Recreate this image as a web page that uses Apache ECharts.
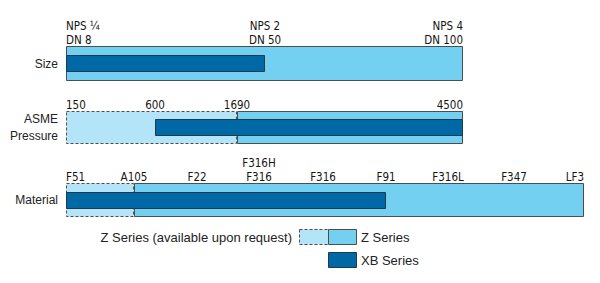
<!DOCTYPE html>
<html>
<head>
<meta charset="utf-8">
<script src="https://cdn.jsdelivr.net/npm/echarts@6/dist/echarts.min.js"></script>
<style>html,body{margin:0;padding:0;background:#fff}#c{width:600px;height:283px}</style>
</head>
<body>
<div id="c"></div>
<script>
// ---- data ----
const rowNames = ['Size', 'ASME\nPressure', 'Material'];

const sizeTicks = ['NPS ¼\nDN 8', 'NPS 2\nDN 50', 'NPS 4\nDN 100'];
const sizeTickPos = [0, 1, 2];
const sizeZaSpan = null;          // tick index ranges
const sizeZSpan = [0, 2];
const sizeXBSpan = [0, 1];

const pressureTicks = ['150', '600', '1690', '4500'];
const pressureTickPos = [0, 22.4, 43.1, 100];
const pressureZaSpan = [0, 2];
const pressureZSpan = [2, 3];
const pressureXBSpan = [1, 3];

const materialTicks = ['F51', 'A105', 'F22', 'F316H\nF316', 'F316', 'F91', 'F316L', 'F347', 'LF3'];
const materialTickPos = [0, 1.05, 2.02, 2.98, 3.97, 4.94, 5.9, 6.92, 8];
const materialZaSpan = [0, 1];
const materialZSpan = [1, 8];
const materialXBSpan = [0, 5];

const legendNames = ['Z Series (available upon request)', 'Z Series', 'XB Series'];

// ---- styles ----
const COL_ZA = '#b4e4f7';
const COL_Z = '#74d0f1';
const COL_XB = '#0068a5';
const EDGE = '#4d4d4d';
const TICK_FONT = "'Liberation Sans Narrow','DejaVu Sans Condensed','Arial Narrow',sans-serif";
const BODY_FONT = "'Liberation Sans',Arial,sans-serif";

const rows = [
  { ticks: sizeTicks, pos: sizeTickPos, za: sizeZaSpan, z: sizeZSpan, xb: sizeXBSpan },
  { ticks: pressureTicks, pos: pressureTickPos, za: pressureZaSpan, z: pressureZSpan, xb: pressureXBSpan },
  { ticks: materialTicks, pos: materialTickPos, za: materialZaSpan, z: materialZSpan, xb: materialXBSpan }
];

const grids = [
  { left: 66, top: 46, width: 397, height: 35 },
  { left: 66, top: 111, width: 397, height: 33 },
  { left: 66, top: 183, width: 518, height: 34 }
];

function styleFor(kind) {
  if (kind === 0) return { fill: COL_ZA, stroke: EDGE, lineWidth: 1, lineDash: [3, 2] };
  if (kind === 1) return { fill: COL_Z, stroke: EDGE, lineWidth: 1 };
  return { fill: COL_XB, stroke: '#1d3a4f', lineWidth: 1 };
}

function barRender(params, api) {
  const s = api.coord([api.value(0), 0]);
  const e = api.coord([api.value(1), 0]);
  const band = api.size([0, 1])[1];
  const kind = api.value(2);
  const h = kind === 2 ? band * 0.5 : band;
  const top = s[1] - h / 2;
  const x0 = Math.round(s[0]) + 0.5;
  const x1 = Math.round(e[0]) - 0.5;
  const y0 = Math.round(top) + 0.5;
  const y1 = Math.round(top + h) - 0.5;
  return {
    type: 'rect',
    shape: { x: x0, y: y0, width: x1 - x0, height: y1 - y0 },
    style: styleFor(kind)
  };
}

const xAxes = [], yAxes = [], series = [];
rows.forEach((r, i) => {
  xAxes.push({
    gridIndex: i, type: 'value',
    min: r.pos[0], max: r.pos[r.pos.length - 1],
    show: false
  });
  yAxes.push({
    gridIndex: i, type: 'category', data: [rowNames[i]],
    axisLine: { show: false }, axisTick: { show: false },
    axisLabel: { margin: 8, fontSize: 12, fontFamily: BODY_FONT, color: '#222', lineHeight: 17 }
  });
  const bars = [];
  if (r.za) bars.push([r.pos[r.za[0]], r.pos[r.za[1]], 0]);
  if (r.z) bars.push([r.pos[r.z[0]], r.pos[r.z[1]], 1]);
  if (r.xb) bars.push([r.pos[r.xb[0]], r.pos[r.xb[1]], 2]);
  series.push({
    type: 'custom', xAxisIndex: i, yAxisIndex: i,
    renderItem: barRender, data: bars, silent: true, animation: false
  });
  const n = r.ticks.length;
  series.push({
    type: 'custom', xAxisIndex: i, yAxisIndex: i, silent: true, animation: false,
    data: r.pos.map((p, k) => [p, k]),
    renderItem: function (params, api) {
      const k = api.value(1);
      const c = api.coord([api.value(0), 0]);
      const band = api.size([0, 1])[1];
      const top = c[1] - band / 2;
      return {
        type: 'text',
        style: {
          text: r.ticks[k],
          x: Math.round(c[0]),
          y: top + 1,
          align: k === 0 ? 'left' : (k === n - 1 ? 'right' : 'center'),
          verticalAlign: 'bottom',
          fontFamily: TICK_FONT,
          fontSize: 11.5,
          lineHeight: 14,
          fill: '#151515'
        }
      };
    }
  });
});

const chart = echarts.init(document.getElementById('c'), null, { renderer: 'svg' });
chart.setOption({
  animation: false,
  grid: grids,
  xAxis: xAxes,
  yAxis: yAxes,
  series: series,
  graphic: [
    { type: 'text', style: { text: legendNames[0], x: 292, y: 237, align: 'right', verticalAlign: 'middle', fontFamily: BODY_FONT, fontSize: 13, fill: '#222' } },
    { type: 'rect', shape: { x: 299.5, y: 229.5, width: 29, height: 15 }, style: styleFor(0) },
    { type: 'rect', shape: { x: 328.5, y: 229.5, width: 28, height: 15 }, style: styleFor(1) },
    { type: 'text', style: { text: legendNames[1], x: 361, y: 237, align: 'left', verticalAlign: 'middle', fontFamily: BODY_FONT, fontSize: 13, fill: '#222' } },
    { type: 'rect', shape: { x: 328.5, y: 252.5, width: 28, height: 15 }, style: styleFor(2) },
    { type: 'text', style: { text: legendNames[2], x: 361, y: 260, align: 'left', verticalAlign: 'middle', fontFamily: BODY_FONT, fontSize: 13, fill: '#222' } }
  ]
});
</script>
</body>
</html>
